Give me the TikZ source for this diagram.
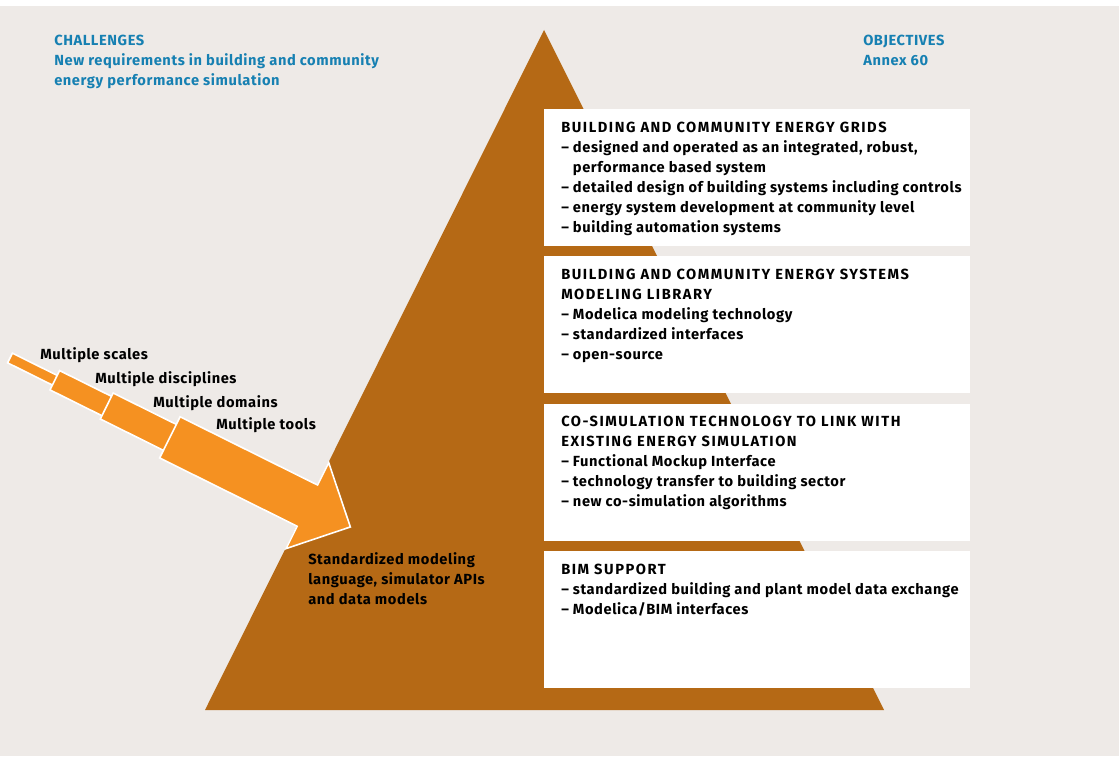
\documentclass[tikz,border=0pt]{standalone}
\usepackage{fontspec}
\setmainfont{Fira Sans}[LetterSpace=4]
\newfontfamily\capsfont{Fira Sans}[LetterSpace=10.5]
\definecolor{paper}{RGB}{238,234,231}
\definecolor{pyramid}{RGB}{181,105,21}
\definecolor{flowcol}{RGB}{245,145,33}
\definecolor{headblue}{RGB}{22,128,178}
\newcommand{\boxtitle}[1]{{\capsfont\bfseries #1}}
\begin{document}
\begin{tikzpicture}[x=0.75pt, y=-0.75pt]
    % Define styles
    \tikzset{
        heading/.style={anchor=north west, inner sep=0pt, align=left, text=headblue, font=\fontsize{11}{15}\selectfont\bfseries},
        objbox/.style={anchor=north west, fill=white, inner sep=0pt, minimum width=319.5pt, minimum height=102.75pt},
        objtext/.style={anchor=north west, inner sep=0pt, align=left, font=\fontsize{11}{15}\selectfont\bfseries},
        flowlabel/.style={anchor=west, inner sep=0pt, font=\fontsize{11}{15}\selectfont\bfseries},
        flow/.style={fill=flowcol, draw=white, line width=1.2pt, line join=miter}
    }

    % Background
    \useasboundingbox (0,0) rectangle (1119,756);
    \fill[paper] (0,6) rectangle (1119,756);

    % Pyramid
    \fill[pyramid] (544,30) -- (884,710) -- (205,710) -- cycle;

    % Headings
    \node[heading] (chal) at (54,35) {CHALLENGES\\New requirements in building and community\\energy performance simulation};
    \node[heading] (obj) at (863,35) {OBJECTIVES\\Annex 60};

    % Objective boxes
    \node[objbox] (b1) at (544,109) {};
    \node[objbox] (b2) at (544,256) {};
    \node[objbox] (b3) at (544,404) {};
    \node[objbox] (b4) at (544,551) {};

    \node[objtext] (t1) at (561,122) {\boxtitle{BUILDING AND COMMUNITY ENERGY GRIDS}\\
        -- designed and operated as an integrated, robust,\\
        \phantom{-- }performance based system\\
        -- detailed design of building systems including controls\\
        -- energy system development at community level\\
        -- building automation systems};
    \node[objtext] (t2) at (561,269) {\boxtitle{BUILDING AND COMMUNITY ENERGY SYSTEMS}\\
        \boxtitle{MODELING LIBRARY}\\
        -- Modelica modeling technology\\
        -- standardized interfaces\\
        -- open-source};
    \node[objtext] (t3) at (561,416) {\boxtitle{CO-SIMULATION TECHNOLOGY TO LINK WITH}\\
        \boxtitle{EXISTING ENERGY SIMULATION}\\
        -- Functional Mockup Interface\\
        -- technology transfer to building sector\\
        -- new co-simulation algorithms};
    \node[objtext] (t4) at (561,564) {\boxtitle{BIM SUPPORT}\\
        -- standardized building and plant model data exchange\\
        -- Modelica/BIM interfaces};

    % Base of the pyramid
    \node[objtext] (base) at (308,552) {Standardized modeling\\language, simulator APIs\\and data models};

    % Growing arrow
    \begin{scope}[shift={(10,358)}, rotate=-26.4]
        \filldraw[flow] (0,-5.4) -- (56,-5.4) -- (56,5.4) -- (0,5.4) -- cycle;
        \filldraw[flow] (50,-10.8) -- (113,-10.8) -- (113,10.8) -- (50,10.8) -- cycle;
        \filldraw[flow] (108,-14.5) -- (184,-14.5) -- (184,14.5) -- (108,14.5) -- cycle;
        \filldraw[flow] (178.5,-23) -- (332,-23) -- (332,-48) -- (380,0)
            -- (332,48) -- (332,23) -- (178.5,23) -- cycle;
    \end{scope}

    % Arrow labels
    \node[flowlabel] (l1) at (40,355) {Multiple scales};
    \node[flowlabel] (l2) at (95,379) {Multiple disciplines};
    \node[flowlabel] (l3) at (153,403) {Multiple domains};
    \node[flowlabel] (l4) at (216,425) {Multiple tools};
\end{tikzpicture}
\end{document}
